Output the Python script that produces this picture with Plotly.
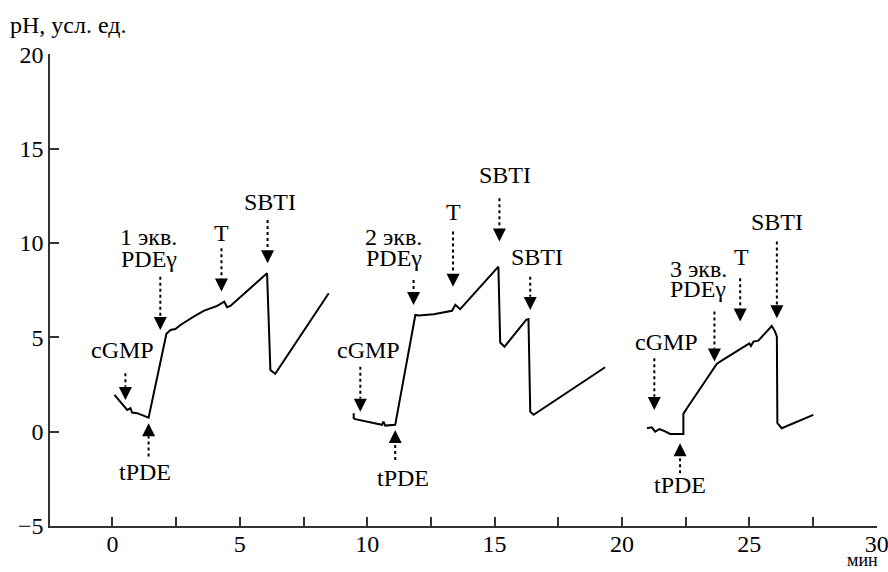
import plotly.graph_objects as go

# ---- data (minutes, pH units) ----
t1 = [0.08, 0.38, 0.58, 0.71, 0.77, 0.97, 1.42, 2.12, 2.28, 2.47, 2.67, 3.19, 3.58, 4.11, 4.37, 4.39, 4.50, 4.63, 6.07, 6.20, 6.39, 8.49]
ph1 = [1.95, 1.50, 1.15, 1.24, 1.01, 0.98, 0.74, 5.18, 5.39, 5.44, 5.65, 6.09, 6.40, 6.66, 6.84, 6.89, 6.59, 6.66, 8.39, 3.27, 3.06, 7.33]

t2 = [9.47, 9.47, 9.53, 10.58, 10.64, 10.71, 11.10, 11.89, 12.02, 12.61, 13.33, 13.46, 13.65, 15.15, 15.22, 15.39, 16.24, 16.33, 16.40, 16.53, 19.34]
ph2 = [0.98, 0.71, 0.66, 0.36, 0.53, 0.32, 0.36, 6.18, 6.15, 6.22, 6.40, 6.72, 6.49, 8.74, 4.72, 4.50, 5.92, 5.96, 1.06, 0.89, 3.41]

t3 = [20.98, 21.17, 21.30, 21.47, 21.63, 21.89, 22.41, 22.41, 22.55, 23.72, 23.85, 24.90, 25.00, 25.06, 25.16, 25.35, 25.88, 26.01, 26.08, 26.10, 26.27, 27.51]
ph3 = [0.18, 0.23, 0.00, 0.13, 0.05, -0.12, -0.12, 0.94, 1.24, 3.59, 3.71, 4.59, 4.68, 4.54, 4.77, 4.82, 5.60, 5.30, 5.03, 0.45, 0.18, 0.89]

# events: arrow time, arrow tip, arrow tail
event_t    = [0.51, 1.42, 1.88, 4.28, 6.09, 9.73, 11.10, 11.82, 13.37, 15.19, 16.40, 21.27, 22.28, 23.63, 24.64, 26.08]
event_tip  = [1.68, 0.45, 5.39, 7.42, 8.92, 1.06, 0.09, 6.71, 7.68, 10.07, 6.45, 1.15, -0.61, 3.71, 5.83, 6.01]
event_tail = [3.09, -1.32, 8.21, 9.72, 11.22, 3.44, -1.50, 8.04, 10.60, 12.37, 8.21, 3.89, -2.20, 6.36, 8.13, 10.07]

# labels: text, x, y
label_text = ["cGMP", "tPDE", "1 экв.", "PDEγ", "T", "SBTI",
              "cGMP", "tPDE", "2 экв.", "PDEγ", "T", "SBTI", "SBTI",
              "cGMP", "tPDE", "3 экв.", "PDEγ", "T", "SBTI"]
label_x = [0.38, 1.29, 1.42, 1.42, 4.28, 6.20,
           10.05, 11.42, 11.04, 11.04, 13.37, 15.42, 16.66,
           21.76, 22.28, 23.00, 23.00, 24.70, 26.08]
label_y = [4.33, -2.14, 10.30, 9.15, 10.51, 12.19,
           4.33, -2.47, 10.30, 9.22, 11.66, 13.60, 9.27,
           4.77, -2.82, 8.62, 7.56, 9.27, 11.13]

x_ticks = [0, 2.5, 5, 7.5, 10, 12.5, 15, 17.5, 20, 22.5, 25, 27.5, 30]
x_tick_text = ["0", "", "5", "", "10", "", "15", "", "20", "", "25", "", "30"]
y_ticks = [-5, 0, 5, 10, 15, 20]

FONT = "Liberation Serif"
FS = 24
HEAD = 0.7  # arrowhead length in pH units

fig = go.Figure()
for tx, py in [(t1, ph1), (t2, ph2), (t3, ph3)]:
    fig.add_trace(go.Scatter(x=tx, y=py, mode="lines",
                             line=dict(color="black", width=2), hoverinfo="skip"))

# dotted shafts
sx, sy = [], []
for t, tip, tail in zip(event_t, event_tip, event_tail):
    d = 1 if tail > tip else -1
    sx += [t, t, None]
    sy += [tail, tip + d * HEAD, None]
fig.add_trace(go.Scatter(x=sx, y=sy, mode="lines",
                         line=dict(color="black", width=2, dash="dot"), hoverinfo="skip"))

annotations = []
for t, tip, tail in zip(event_t, event_tip, event_tail):
    d = 1 if tail > tip else -1
    annotations.append(dict(x=t, y=tip, ax=t, ay=tip + d * HEAD, xref="x", yref="y",
                            axref="x", ayref="y", showarrow=True, arrowhead=2,
                            arrowsize=1.3, arrowwidth=2, arrowcolor="black", text=""))
for txt, lx, ly in zip(label_text, label_x, label_y):
    annotations.append(dict(x=lx, y=ly, xref="x", yref="y", text=txt, showarrow=False,
                            font=dict(family=FONT, size=FS, color="black"),
                            xanchor="center", yanchor="middle"))
annotations.append(dict(x=-0.051, y=1.062, xref="paper", yref="paper", text="pH, усл. ед.",
                        showarrow=False, xanchor="left", yanchor="middle",
                        font=dict(family=FONT, size=FS, color="black")))
annotations.append(dict(x=0.982, y=-0.073, xref="paper", yref="paper", text="мин",
                        showarrow=False, xanchor="center", yanchor="middle",
                        font=dict(family=FONT, size=18, color="black")))

axis_common = dict(ticks="inside", ticklen=9, tickwidth=1.5, tickcolor="#333",
                   showline=True, linecolor="#333", linewidth=1.5,
                   showgrid=False, zeroline=False, fixedrange=True,
                   automargin=False, ticklabeloverflow="allow",
                   tickfont=dict(family=FONT, size=FS, color="black"))

fig.update_layout(
    width=888, height=572,
    margin=dict(l=50, r=11, t=54, b=46, autoexpand=False),
    paper_bgcolor="white", plot_bgcolor="white",
    showlegend=False,
    annotations=annotations,
    font=dict(family=FONT, size=FS, color="black"),
    xaxis=dict(range=[-2.45, 30.01], tickvals=x_ticks, ticktext=x_tick_text,
               ticklabelstandoff=-5, **axis_common),
    yaxis=dict(range=[-5, 20.01], tickvals=y_ticks, **axis_common),
)

fig.write_html("out.html", config={"displayModeBar": False},
               post_script="document.body.style.margin='0';document.body.style.overflow='hidden';")
